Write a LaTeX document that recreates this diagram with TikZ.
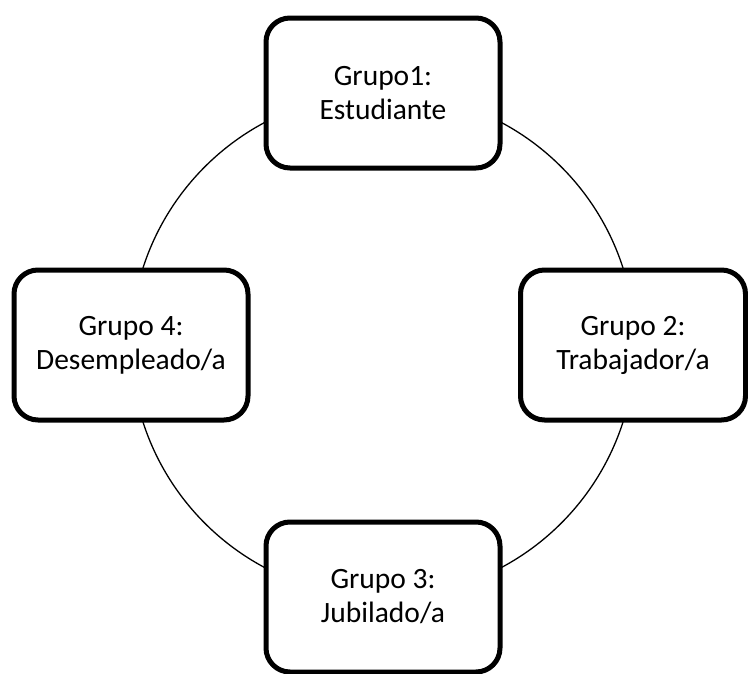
\documentclass[tikz,border=0pt]{standalone}
\usepackage{fontspec}
\setmainfont{Carlito}
\begin{document}
\begin{tikzpicture}[x=1pt, y=1pt, node distance=252pt,
        grupo/.style = {draw, line width=5pt, rounded corners=24pt, fill=white,
            minimum width=234pt, minimum height=150pt, align=center,
            font=\fontsize{29.5}{34}\selectfont}]
            \useasboundingbox (0,0) rectangle (748,-673);
            \coordinate (0) at (383,-345);
            \draw[line width=1.3pt] (0) circle (252pt);
            \node[grupo] (1) [above of=0] {Grupo1:\\Estudiante};
            \node[grupo, minimum width=225pt] (2) [right of=0, xshift=-2pt] {Grupo 2:\\Trabajador/a};
            \node[grupo] (3) [below of=0] {Grupo 3:\\Jubilado/a};
            \node[grupo] (4) [left of=0] {Grupo 4:\\Desempleado/a};
        \end{tikzpicture}
\end{document}
